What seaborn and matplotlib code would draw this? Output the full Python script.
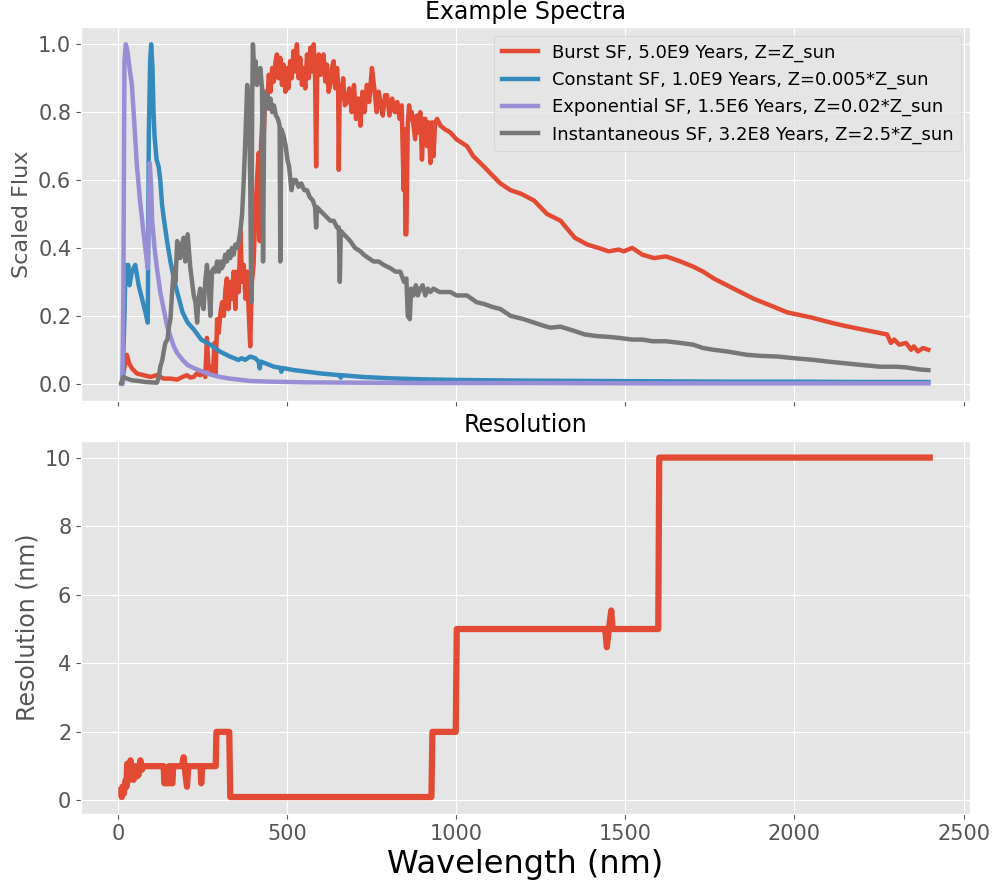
import matplotlib
matplotlib.use("Agg")
import matplotlib.pyplot as plt
import seaborn as sns
import pandas as pd

# ---------------- data ----------------
series_names = [
    "Burst SF, 5.0E9 Years, Z=Z_sun",
    "Constant SF, 1.0E9 Years, Z=0.005*Z_sun",
    "Exponential SF, 1.5E6 Years, Z=0.02*Z_sun",
    "Instantaneous SF, 3.2E8 Years, Z=2.5*Z_sun",
]
colors = ["#E24A33", "#348ABD", "#988ED5", "#777777"]

burst = [(9, 0.0), (12, 0.01), (18, 0.05), (25, 0.085), (32, 0.06), (40, 0.045), (55, 0.03), (75, 0.025),
         (95, 0.02), (114, 0.025), (134, 0.015), (154, 0.015), (174, 0.012), (190, 0.02), (203, 0.025),
         (213, 0.018), (223, 0.02), (232, 0.03), (242, 0.025), (250, 0.035), (257, 0.02), (262, 0.135),
         (266, 0.06), (272, 0.04), (280, 0.03), (284, 0.12), (288, 0.03), (292, 0.19), (297, 0.15),
         (302, 0.21), (307, 0.24), (312, 0.2), (317, 0.28), (321, 0.31), (326, 0.22), (331, 0.3),
         (336, 0.25), (341, 0.33), (346, 0.22), (351, 0.33), (356, 0.27), (361, 0.45), (366, 0.3),
         (371, 0.35), (376, 0.25), (381, 0.33), (386, 0.2), (390, 0.11), (395, 0.3), (400, 0.35),
         (405, 0.5), (410, 0.6), (415, 0.68), (418, 0.42), (422, 0.7), (426, 0.78), (430, 0.73),
         (435, 0.86), (440, 0.82), (445, 0.91), (450, 0.86), (455, 0.93), (460, 0.89), (465, 0.95),
         (469, 0.97), (474, 0.9), (479, 0.96), (484, 0.88), (489, 0.94), (494, 0.86), (498, 0.93),
         (503, 0.87), (508, 0.95), (513, 0.9), (518, 0.98), (523, 0.92), (528, 1.0), (533, 0.9),
         (538, 0.96), (543, 0.88), (548, 0.93), (553, 0.87), (558, 0.97), (563, 0.9), (568, 0.99),
         (573, 0.92), (578, 1.0), (582, 0.9), (585, 0.64), (588, 0.9), (593, 0.97), (598, 0.91),
         (603, 0.96), (607, 0.97), (612, 0.89), (617, 0.94), (622, 0.86), (627, 0.88), (632, 0.93),
         (637, 0.95), (642, 0.87), (647, 0.93), (650, 0.88), (652, 0.63), (655, 0.88), (660, 0.84),
         (665, 0.9), (670, 0.82), (677, 0.83), (683, 0.87), (690, 0.8), (697, 0.88), (703, 0.78),
         (710, 0.84), (716, 0.76), (722, 0.86), (728, 0.8), (735, 0.88), (742, 0.83), (750, 0.93),
         (757, 0.87), (764, 0.8), (770, 0.86), (775, 0.83), (782, 0.79), (789, 0.85), (795, 0.85),
         (802, 0.79), (810, 0.84), (818, 0.8), (825, 0.83), (832, 0.78), (838, 0.82), (844, 0.57),
         (847, 0.75), (849, 0.44), (852, 0.44), (856, 0.76), (860, 0.82), (864, 0.78), (868, 0.8),
         (873, 0.76), (878, 0.72), (883, 0.79), (888, 0.74), (893, 0.8), (898, 0.66), (903, 0.78),
         (908, 0.78), (913, 0.7), (918, 0.77), (923, 0.65), (928, 0.77), (932, 0.67), (937, 0.77),
         (943, 0.78), (953, 0.76), (965, 0.75), (982, 0.74), (1000, 0.72), (1031, 0.70), (1050, 0.67),
         (1081, 0.64), (1110, 0.61), (1130, 0.59), (1160, 0.57), (1190, 0.56), (1229, 0.54),
         (1268, 0.50), (1308, 0.48), (1350, 0.43), (1387, 0.41), (1420, 0.40), (1450, 0.39),
         (1480, 0.395), (1495, 0.39), (1520, 0.40), (1550, 0.38), (1584, 0.37), (1620, 0.375),
         (1663, 0.36), (1700, 0.345), (1730, 0.33), (1761, 0.31), (1820, 0.28), (1880, 0.25),
         (1930, 0.23), (1979, 0.21), (2050, 0.195), (2107, 0.18), (2150, 0.17), (2200, 0.16),
         (2240, 0.152), (2274, 0.145), (2285, 0.12), (2295, 0.13), (2310, 0.115), (2330, 0.12),
         (2345, 0.10), (2353, 0.11), (2365, 0.095), (2380, 0.105), (2396, 0.10)]

constant = [(9, 0.0), (12, 0.0), (18, 0.2), (21, 0.35), (25, 0.31), (29, 0.35), (33, 0.29), (40, 0.33),
            (50, 0.35), (60, 0.29), (70, 0.25), (80, 0.21), (87, 0.18), (90, 0.73), (94, 0.95),
            (97, 1.0), (101, 0.93), (104, 0.8), (107, 0.73), (113, 0.66), (119, 0.64), (124, 0.6),
            (129, 0.53), (134, 0.49), (144, 0.42), (154, 0.36), (164, 0.31), (174, 0.27), (190, 0.21),
            (205, 0.18), (223, 0.16), (245, 0.13), (272, 0.115), (300, 0.095), (330, 0.08), (355, 0.07),
            (365, 0.075), (375, 0.07), (390, 0.08), (405, 0.075), (415, 0.065), (418, 0.045),
            (422, 0.065), (440, 0.058), (460, 0.05), (479, 0.047), (482, 0.035), (486, 0.046),
            (520, 0.04), (560, 0.035), (600, 0.03), (655, 0.025), (658, 0.018), (662, 0.025),
            (720, 0.02), (800, 0.016), (893, 0.013), (1000, 0.011), (1200, 0.009), (1400, 0.008),
            (1600, 0.007), (1800, 0.006), (2000, 0.006), (2200, 0.005), (2396, 0.005)]

exponential = [(9, 0.0), (12, 0.0), (15, 0.3), (18, 0.95), (22, 1.0), (27, 0.98), (33, 0.93), (40, 0.88),
               (47, 0.77), (55, 0.64), (65, 0.53), (75, 0.44), (82, 0.38), (87, 0.34), (90, 0.5),
               (93, 0.65), (97, 0.58), (100, 0.48), (107, 0.4), (114, 0.34), (124, 0.27), (134, 0.22),
               (144, 0.17), (154, 0.14), (164, 0.11), (174, 0.09), (190, 0.07), (205, 0.055),
               (223, 0.046), (250, 0.035), (272, 0.027), (300, 0.02), (330, 0.015), (390, 0.008),
               (450, 0.006), (550, 0.004), (700, 0.003), (900, 0.002), (1200, 0.002), (1600, 0.001),
               (2000, 0.001), (2396, 0.001)]

instantaneous = [(9, 0.003), (12, 0.01), (15, 0.02), (25, 0.015), (40, 0.01), (60, 0.008), (80, 0.005),
                 (100, 0.004), (114, 0.003), (120, 0.02), (124, 0.05), (130, 0.07), (135, 0.1),
                 (139, 0.12), (145, 0.13), (150, 0.17), (154, 0.19), (159, 0.27), (164, 0.34),
                 (169, 0.3), (174, 0.42), (178, 0.38), (183, 0.37), (188, 0.41), (193, 0.43),
                 (198, 0.36), (205, 0.44), (209, 0.39), (213, 0.34), (218, 0.3), (223, 0.26),
                 (228, 0.24), (233, 0.18), (237, 0.25), (242, 0.28), (247, 0.24), (252, 0.22),
                 (257, 0.3), (262, 0.35), (267, 0.3), (272, 0.2), (277, 0.33), (282, 0.34), (287, 0.33),
                 (292, 0.36), (297, 0.33), (302, 0.36), (306, 0.34), (311, 0.35), (316, 0.38),
                 (321, 0.36), (326, 0.39), (331, 0.37), (336, 0.4), (341, 0.38), (346, 0.41),
                 (351, 0.4), (356, 0.42), (361, 0.45), (366, 0.5), (371, 0.6), (376, 0.73), (381, 0.88),
                 (386, 0.82), (390, 0.6), (393, 0.24), (396, 0.85), (398, 1.0), (402, 0.92),
                 (406, 0.95), (410, 0.88), (415, 0.91), (420, 0.93), (425, 0.87), (428, 0.36),
                 (432, 0.86), (436, 0.84), (440, 0.85), (445, 0.81), (450, 0.84), (455, 0.8),
                 (460, 0.82), (466, 0.79), (472, 0.78), (477, 0.76), (479, 0.36), (482, 0.75),
                 (489, 0.73), (495, 0.7), (500, 0.66), (505, 0.64), (509, 0.6), (512, 0.57), (518, 0.6),
                 (525, 0.6), (533, 0.58), (541, 0.59), (550, 0.57), (558, 0.57), (566, 0.55),
                 (575, 0.54), (582, 0.52), (585, 0.46), (588, 0.52), (597, 0.51), (607, 0.5),
                 (617, 0.49), (627, 0.48), (637, 0.48), (647, 0.46), (652, 0.46), (655, 0.3),
                 (658, 0.45), (667, 0.44), (677, 0.43), (686, 0.42), (700, 0.4), (716, 0.39),
                 (726, 0.38), (740, 0.37), (755, 0.36), (770, 0.36), (785, 0.35), (805, 0.34),
                 (820, 0.33), (834, 0.33), (845, 0.3), (852, 0.31), (856, 0.2), (862, 0.19),
                 (866, 0.28), (873, 0.26), (880, 0.29), (886, 0.26), (893, 0.28), (900, 0.29),
                 (908, 0.26), (915, 0.28), (923, 0.27), (932, 0.28), (950, 0.27), (982, 0.27),
                 (1000, 0.26), (1031, 0.26), (1060, 0.24), (1081, 0.235), (1110, 0.225), (1130, 0.22),
                 (1160, 0.2), (1180, 0.195), (1199, 0.19), (1229, 0.18), (1260, 0.17), (1278, 0.165),
                 (1308, 0.168), (1350, 0.155), (1380, 0.145), (1417, 0.14), (1450, 0.138),
                 (1480, 0.135), (1520, 0.13), (1550, 0.13), (1580, 0.125), (1620, 0.125), (1663, 0.12),
                 (1700, 0.115), (1730, 0.105), (1760, 0.1), (1800, 0.095), (1830, 0.09), (1860, 0.085),
                 (1900, 0.082), (1950, 0.08), (2000, 0.075), (2057, 0.07), (2100, 0.065), (2150, 0.06),
                 (2200, 0.055), (2254, 0.05), (2300, 0.05), (2330, 0.048), (2350, 0.045),
                 (2370, 0.042), (2396, 0.04)]

resolution = [(9, 0.3), (10, 0.1), (12, 0.4), (16, 0.2), (21, 0.58), (24, 0.4), (26, 1.07), (30, 0.58),
              (33, 0.9), (36, 1.17), (40, 0.8), (45, 0.6), (50, 1.0), (55, 0.7), (60, 0.75), (65, 1.17),
              (70, 0.9), (75, 1.0), (134, 1.0), (136, 0.5), (148, 0.5), (150, 1.0), (154, 1.0),
              (156, 0.5), (160, 0.5), (162, 1.0), (188, 1.0), (193, 1.26), (198, 0.8), (203, 0.4),
              (207, 1.0), (243, 1.0), (245, 0.5), (248, 1.0), (288, 1.0), (290, 2.0), (328, 2.0),
              (331, 0.1), (926, 0.1), (929, 2.0), (998, 2.0), (1001, 5.0), (1440, 5.0), (1445, 4.47),
              (1451, 5.0), (1458, 5.54), (1462, 5.0), (1597, 5.0), (1600, 10.0), (2400, 10.0)]

spectra = [burst, constant, exponential, instantaneous]

# ---------------- build frames ----------------
rows = []
for name, pts in zip(series_names, spectra):
    for wl, fl in pts:
        rows.append({"Wavelength": wl, "Flux": fl, "Model": name})
spec_df = pd.DataFrame(rows)
res_df = pd.DataFrame(resolution, columns=["Wavelength", "Resolution"])

# ---------------- style ----------------
plt.style.use("ggplot")
plt.rcParams["font.family"] = ["DejaVu Sans"]

fig, (ax1, ax2) = plt.subplots(2, 1, sharex=True, figsize=(9.95, 8.8), dpi=100)
fig.subplots_adjust(left=0.0814, right=0.975, bottom=0.075, top=0.969, hspace=0.107)

sns.lineplot(data=spec_df, x="Wavelength", y="Flux", hue="Model", hue_order=series_names,
             palette=colors, estimator=None, sort=False, linewidth=3.2, ax=ax1)
ax1.set_title("Example Spectra", fontsize=17)
ax1.set_ylabel("Scaled Flux", fontsize=16)
ax1.set_xlabel("")
ax1.legend(loc="upper right", fontsize=13)
ax1.set_yticks([0.0, 0.2, 0.4, 0.6, 0.8, 1.0])

sns.lineplot(data=res_df, x="Wavelength", y="Resolution", color=colors[0],
             estimator=None, sort=False, linewidth=4.5, ax=ax2)
ax2.set_title("Resolution", fontsize=17)
ax2.set_ylabel("Resolution (nm)", fontsize=17)
ax2.set_xlabel("Wavelength (nm)", fontsize=23, color="black")
ax2.set_xticks([0, 500, 1000, 1500, 2000, 2500])
ax2.set_yticks([0, 2, 4, 6, 8, 10])

for ax in (ax1, ax2):
    ax.tick_params(labelsize=15)

fig.savefig("out.png", dpi=100)
